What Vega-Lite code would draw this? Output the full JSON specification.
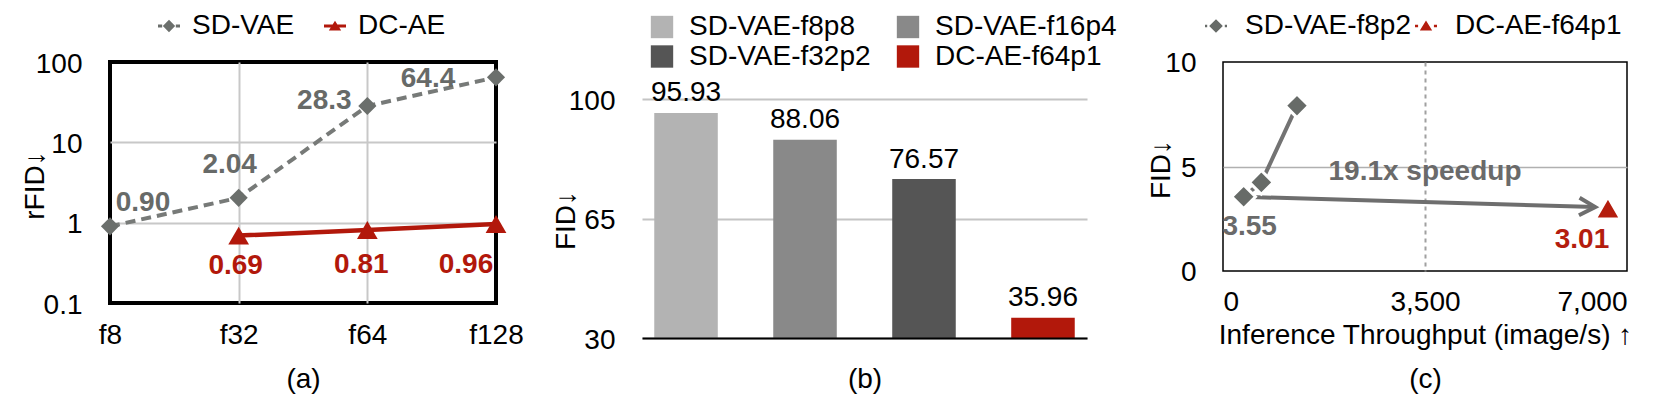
{
  "$schema": "https://vega.github.io/schema/vega-lite/v6.json",
  "background": "white",
  "padding": {"left": 19, "top": 10, "right": 0, "bottom": 0},
  "spacing": 29,
  "resolve": {"scale": {"color": "independent", "shape": "independent"}, "legend": {"color": "independent", "shape": "independent"}},
  "config": {
    "font": "Liberation Sans",
    "view": {"stroke": null},
    "axis": {"labelFont": "Liberation Sans", "titleFont": "Liberation Sans", "labelFontSize": 28, "titleFontSize": 28, "labelColor": "#000", "titleColor": "#000", "titleFontWeight": "normal", "ticks": false, "domain": false, "gridColor": "#c8c8c8", "gridWidth": 2},
    "legend": {"labelFont": "Liberation Sans", "labelFontSize": 28, "labelColor": "#000", "labelLimit": 0},
    "text": {"font": "Liberation Sans"}
  },
  "hconcat": [
    {
      "spacing": 26,
      "resolve": {"scale": {"color": "independent", "shape": "independent"}, "legend": {"color": "independent", "shape": "independent"}},
      "hconcat": [
        {
          "width": 386, "height": 241,
          "view": {"stroke": "#000", "strokeWidth": 4},
          "data": {"values": [
            {"model": "SD-VAE", "f": "f8", "rfid": 0.90},
            {"model": "SD-VAE", "f": "f32", "rfid": 2.04},
            {"model": "SD-VAE", "f": "f64", "rfid": 28.3},
            {"model": "SD-VAE", "f": "f128", "rfid": 64.4},
            {"model": "DC-AE", "f": "f32", "rfid": 0.69},
            {"model": "DC-AE", "f": "f64", "rfid": 0.81},
            {"model": "DC-AE", "f": "f128", "rfid": 0.96}
          ]},
          "encoding": {
            "x": {"field": "f", "type": "ordinal", "sort": ["f8", "f32", "f64", "f128"], "scale": {"type": "point", "padding": 0},
              "axis": {"title": "(a)", "labelAngle": 0, "labelPadding": 18, "grid": true,
                "gridOpacity": {"condition": {"test": "datum.value === 'f32' || datum.value === 'f64'", "value": 1}, "value": 0},
                "titleY": 84, "titleBaseline": "alphabetic"}},
            "y": {"field": "rfid", "type": "quantitative", "scale": {"type": "log", "domain": [0.1, 100]},
              "axis": {"title": "rFID↓", "values": [0.1, 1, 10, 100], "format": "~g", "labelPadding": 28, "labelOffset": 2, "grid": true,
                "gridOpacity": {"condition": {"test": "datum.value === 1 || datum.value === 10", "value": 1}, "value": 0},
                "titleX": -67, "titleY": 123, "titleBaseline": "alphabetic"}}
          },
          "layer": [
            {"transform": [{"filter": "datum.model === 'SD-VAE'"}], "mark": {"type": "line", "color": "#777a78", "strokeWidth": 4, "strokeDash": [10, 6]}, "encoding": {}},
            {"transform": [{"filter": "datum.model === 'DC-AE'"}], "mark": {"type": "line", "color": "#b2180b", "strokeWidth": 4.5}, "encoding": {}},
            {"transform": [{"filter": "datum.model === 'SD-VAE'"}], "mark": {"type": "point", "shape": "diamond", "filled": true, "size": 330, "color": "#6b6f6c", "opacity": 1}},
            {"transform": [{"filter": "datum.model === 'DC-AE'"}], "mark": {"type": "point", "shape": "triangle-up", "filled": true, "size": 430, "color": "#b2180b", "opacity": 1}},
            {"mark": {"type": "point", "filled": true, "opacity": 0},
              "encoding": {
                "color": {"field": "model", "type": "nominal", "scale": {"domain": ["SD-VAE", "DC-AE"], "range": ["#6b6f6c", "#b2180b"]},
                  "legend": {"title": null, "orient": "none", "legendX": 45, "legendY": -50, "direction": "horizontal", "symbolSize": 484, "labelFontSize": 28, "labelOffset": 9, "columnPadding": 26, "symbolOpacity": 1, "symbolStrokeWidth": 0, "encode": {"symbols": {"update": {"opacity": {"value": 1}}}}}},
                "shape": {"field": "model", "type": "nominal", "scale": {"domain": ["SD-VAE", "DC-AE"], "range": ["M-1,-0.14H-0.62V0.14H-1Z M0.62,-0.14H1V0.14H0.62Z M0,-0.56L0.56,0L0,0.56L-0.56,0Z", "M-1,-0.14H1V0.14H-1Z M0,-0.48L0.56,0.42L-0.56,0.42Z"]},
                  "legend": {"title": null, "orient": "none", "legendX": 45, "legendY": -50, "direction": "horizontal", "symbolSize": 484, "labelFontSize": 28, "labelOffset": 9, "columnPadding": 26, "symbolOpacity": 1, "symbolStrokeWidth": 0, "encode": {"symbols": {"update": {"opacity": {"value": 1}}}}}}
              }},
            {"transform": [{"filter": "datum.model === 'SD-VAE' && datum.f === 'f8'"}], "mark": {"type": "text", "fontWeight": "bold", "fontSize": 28, "color": "#676a68", "baseline": "alphabetic", "align": "center", "dx": 33, "dy": -15}, "encoding": {"text": {"field": "rfid", "type": "quantitative", "format": ".2f"}}},
            {"transform": [{"filter": "datum.model === 'SD-VAE' && datum.f === 'f32'"}], "mark": {"type": "text", "fontWeight": "bold", "fontSize": 28, "color": "#676a68", "baseline": "alphabetic", "align": "center", "dx": -9, "dy": -25}, "encoding": {"text": {"field": "rfid", "type": "quantitative", "format": ".2f"}}},
            {"transform": [{"filter": "datum.model === 'SD-VAE' && datum.f === 'f64'"}], "mark": {"type": "text", "fontWeight": "bold", "fontSize": 28, "color": "#676a68", "baseline": "alphabetic", "align": "center", "dx": -43, "dy": 3}, "encoding": {"text": {"field": "rfid", "type": "quantitative", "format": ".1f"}}},
            {"transform": [{"filter": "datum.model === 'SD-VAE' && datum.f === 'f128'"}], "mark": {"type": "text", "fontWeight": "bold", "fontSize": 28, "color": "#676a68", "baseline": "alphabetic", "align": "center", "dx": -68, "dy": 10}, "encoding": {"text": {"field": "rfid", "type": "quantitative", "format": ".1f"}}},
            {"transform": [{"filter": "datum.model === 'DC-AE' && datum.f === 'f32'"}], "mark": {"type": "text", "fontWeight": "bold", "fontSize": 28, "color": "#b2180b", "baseline": "alphabetic", "align": "center", "dx": -3, "dy": 38}, "encoding": {"text": {"field": "rfid", "type": "quantitative", "format": ".2f"}}},
            {"transform": [{"filter": "datum.model === 'DC-AE' && datum.f === 'f64'"}], "mark": {"type": "text", "fontWeight": "bold", "fontSize": 28, "color": "#b2180b", "baseline": "alphabetic", "align": "center", "dx": -6, "dy": 43}, "encoding": {"text": {"field": "rfid", "type": "quantitative", "format": ".2f"}}},
            {"transform": [{"filter": "datum.model === 'DC-AE' && datum.f === 'f128'"}], "mark": {"type": "text", "fontWeight": "bold", "fontSize": 28, "color": "#b2180b", "baseline": "alphabetic", "align": "center", "dx": -30, "dy": 49}, "encoding": {"text": {"field": "rfid", "type": "quantitative", "format": ".2f"}}}
          ]
        },
        {
          "width": 445, "height": 276,
          "data": {"values": [
            {"model": "SD-VAE-f8p8", "fid": 95.93},
            {"model": "SD-VAE-f16p4", "fid": 88.06},
            {"model": "SD-VAE-f32p2", "fid": 76.57},
            {"model": "DC-AE-f64p1", "fid": 35.96}
          ]},
          "encoding": {
            "x": {"field": "model", "type": "nominal", "sort": null, "scale": {"paddingInner": 0.466, "paddingOuter": 0.103},
              "axis": {"title": "(b)", "labels": false, "domain": true, "domainColor": "#000", "domainWidth": 2, "zindex": 1, "titleY": 49, "titleBaseline": "alphabetic"}},
            "y": {"field": "fid", "type": "quantitative", "scale": {"domain": [30, 110.84], "nice": false},
              "axis": {"title": "FID↓", "values": [30, 65, 100], "labelPadding": 27, "labelOffset": 2, "gridColor": "#c4c4c4", "gridWidth": 2, "titleX": -68, "titleY": 158, "titleBaseline": "alphabetic"}}
          },
          "layer": [
            {"mark": {"type": "bar", "clip": true},
              "encoding": {"color": {"field": "model", "type": "nominal",
                "scale": {"domain": ["SD-VAE-f8p8", "SD-VAE-f32p2", "SD-VAE-f16p4", "DC-AE-f64p1"], "range": ["#b3b3b3", "#555555", "#898989", "#b2180b"]},
                "legend": {"title": null, "orient": "none", "legendX": 6, "legendY": -49, "columns": 2, "symbolType": "square", "symbolSize": 500, "labelFontSize": 28, "labelOffset": 13, "columnPadding": 23, "rowPadding": 1.5, "symbolStrokeWidth": 0}}}},
            {"mark": {"type": "text", "fontSize": 28, "baseline": "alphabetic", "align": "center", "dy": -11.5, "color": "#000"},
              "encoding": {"text": {"field": "fid", "type": "quantitative", "format": ".2f"}}}
          ]
        }
      ]
    },
    {
      "resolve": {"scale": {"color": "independent", "shape": "independent"}, "legend": {"color": "independent", "shape": "independent"}},
      "hconcat": [
        {
          "width": 404, "height": 209,
          "view": {"stroke": "#000", "strokeWidth": 1.5},
          "data": {"values": [
            {"model": "SD-VAE-f8p2", "tp": 358, "fid": 3.55},
            {"model": "SD-VAE-f8p2", "tp": 664, "fid": 4.24},
            {"model": "SD-VAE-f8p2", "tp": 1282, "fid": 7.91},
            {"model": "DC-AE-f64p1", "tp": 6670, "fid": 3.01}
          ]},
          "encoding": {
            "x": {"field": "tp", "type": "quantitative", "scale": {"domain": [0, 7000]},
              "axis": {"title": ["Inference Throughput (image/s) ↑", "(c)"], "values": [0, 3500, 7000], "format": ",.0f", "labelPadding": 17, "grid": true,
                "gridOpacity": {"condition": {"test": "datum.value === 3500", "value": 1}, "value": 0},
                "gridDash": [4, 4], "gridColor": "#a0a0a0", "gridWidth": 2, "titleY": 72, "titleBaseline": "alphabetic", "titleLineHeight": 44}},
            "y": {"field": "fid", "type": "quantitative", "scale": {"domain": [0, 10]},
              "axis": {"title": "FID↓", "values": [0, 5, 10], "labelPadding": 27, "labelOffset": 1.5, "grid": true,
                "gridOpacity": {"condition": {"test": "datum.value === 5", "value": 1}, "value": 0},
                "gridColor": "#b0b0b0", "gridWidth": 1.5, "titleX": -54, "titleY": 107, "titleBaseline": "alphabetic"}}
          },
          "layer": [
            {"data": {"values": [{"tp": 3500, "fid": 4.35, "note": "19.1x speedup"}]},
              "mark": {"type": "text", "fontWeight": "bold", "fontSize": 28, "color": "#6a6a6a", "baseline": "alphabetic", "align": "center"},
              "encoding": {"text": {"field": "note"}}},
            {"data": {"values": [{"tp": 358, "fid": 3.55, "tp2": 6450, "fid2": 3.06}]},
              "mark": {"type": "rule", "color": "#6e6e6e", "strokeWidth": 4},
              "encoding": {"x2": {"field": "tp2"}, "y2": {"field": "fid2"}}},
            {"data": {"values": [{"tp": 6450, "fid": 3.06}]},
              "mark": {"type": "point", "shape": "M-1,-0.55L0,0L-1,0.55", "filled": false, "size": 1024, "color": "#6e6e6e", "strokeWidth": 4, "angle": 2, "opacity": 1}},
            {"transform": [{"filter": "datum.model === 'SD-VAE-f8p2'"}], "mark": {"type": "line", "color": "#737373", "strokeWidth": 4}, "encoding": {}},
            {"transform": [{"filter": "datum.model === 'SD-VAE-f8p2'"}], "mark": {"type": "point", "shape": "diamond", "filled": true, "size": 560, "color": "#676b68", "stroke": "#fff", "strokeWidth": 3, "opacity": 1}},
            {"transform": [{"filter": "datum.model === 'DC-AE-f64p1'"}], "mark": {"type": "point", "shape": "triangle-up", "filled": true, "size": 620, "color": "#b41d0e", "stroke": "#fff", "strokeWidth": 2.5, "opacity": 1}},
            {"mark": {"type": "point", "filled": true, "opacity": 0},
              "encoding": {
                "color": {"field": "model", "type": "nominal", "scale": {"domain": ["SD-VAE-f8p2", "DC-AE-f64p1"], "range": ["#676b68", "#b41d0e"]},
                  "legend": {"title": null, "orient": "none", "legendX": -21, "legendY": -50, "direction": "horizontal", "symbolSize": 484, "labelFontSize": 28, "labelOffset": 15, "columnPadding": 1, "symbolOpacity": 1, "symbolStrokeWidth": 0, "encode": {"symbols": {"update": {"opacity": {"value": 1}}}}}},
                "shape": {"field": "model", "type": "nominal", "scale": {"domain": ["SD-VAE-f8p2", "DC-AE-f64p1"], "range": ["M-1,-0.12H-0.8V0.12H-1Z M0.8,-0.12H1V0.12H0.8Z M0,-0.62L0.62,0L0,0.62L-0.62,0Z", "M-1,-0.12H-0.72V0.12H-1Z M0.72,-0.12H1V0.12H0.72Z M0,-0.5L0.56,0.42L-0.56,0.42Z"]},
                  "legend": {"title": null, "orient": "none", "legendX": -21, "legendY": -50, "direction": "horizontal", "symbolSize": 484, "labelFontSize": 28, "labelOffset": 15, "columnPadding": 1, "symbolOpacity": 1, "symbolStrokeWidth": 0, "encode": {"symbols": {"update": {"opacity": {"value": 1}}}}}}
              }},
            {"transform": [{"filter": "datum.model === 'SD-VAE-f8p2' && datum.fid === 3.55"}], "mark": {"type": "text", "fontWeight": "bold", "fontSize": 28, "color": "#6a6a6a", "baseline": "alphabetic", "align": "center", "dx": 6, "dy": 38}, "encoding": {"text": {"field": "fid", "type": "quantitative", "format": ".2f"}}},
            {"transform": [{"filter": "datum.model === 'DC-AE-f64p1'"}], "mark": {"type": "text", "fontWeight": "bold", "fontSize": 28, "color": "#b41d0e", "baseline": "alphabetic", "align": "center", "dx": -26, "dy": 40}, "encoding": {"text": {"field": "fid", "type": "quantitative", "format": ".2f"}}}
          ]
        }
      ]
    }
  ]
}
